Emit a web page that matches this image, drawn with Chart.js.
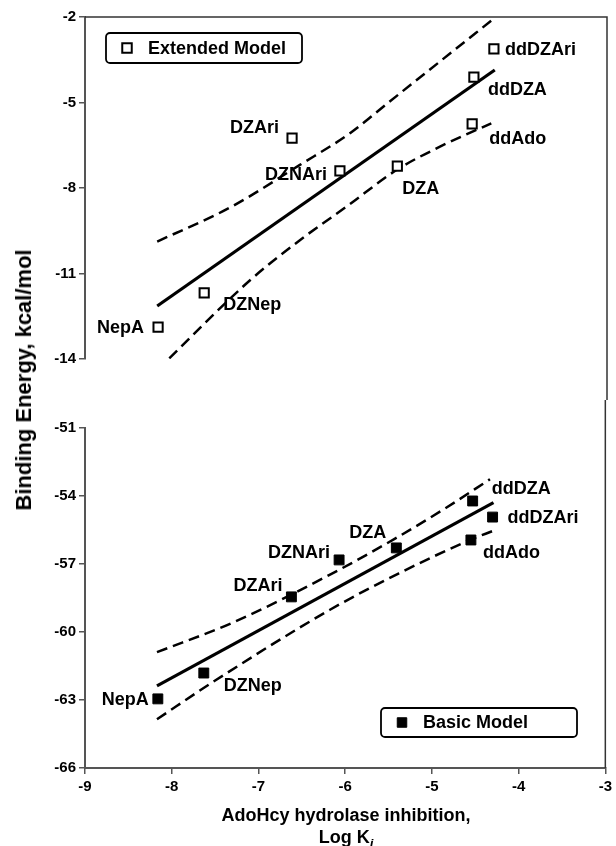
<!DOCTYPE html>
<html>
<head>
<meta charset="utf-8">
<script src="https://cdn.jsdelivr.net/npm/chart.js@4.4.1/dist/chart.umd.min.js"></script>
<style>
html,body{margin:0;padding:0;background:#fff;}
#wrap{position:relative;width:616px;height:846px;overflow:hidden;font-family:"Liberation Sans",Arial,Helvetica,sans-serif;color:#000;}
#topBox{position:absolute;left:0;top:0;width:616px;height:400px;}
#botBox{position:absolute;left:0;top:400px;width:616px;height:446px;}
#ytitle{position:absolute;left:24px;top:380px;transform:translate(-50%,-50%) rotate(-90deg);white-space:nowrap;font-weight:bold;font-size:22px;}
#xtitle{position:absolute;left:346px;top:804px;transform:translateX(-50%);text-align:center;font-weight:bold;font-size:18px;line-height:22px;white-space:nowrap;}
#xtitle sub{font-size:13px;line-height:0;}
</style>
</head>
<body>
<div id="wrap">
  <div id="topBox"><canvas id="topChart"></canvas></div>
  <div id="botBox"><canvas id="botChart"></canvas></div>
  <div id="ytitle">Binding Energy, kcal/mol</div>
  <div id="xtitle">AdoHcy hydrolase inhibition,<br>Log K<sub><i>i</i></sub></div>
</div>
<script>
// ---------------- data ----------------
const compounds = ['NepA', 'DZNep', 'DZAri', 'DZNAri', 'DZA', 'ddAdo', 'ddDZA', 'ddDZAri'];
const logKi = [-8.16, -7.63, -6.62, -6.07, -5.41, -4.55, -4.53, -4.30];

// Extended model (top panel)
const extendedEnergy = [-12.88, -11.68, -6.25, -7.40, -7.23, -5.75, -4.11, -3.12];
const extFitX = [-8.17, -4.29];
const extFitY = [-12.14, -3.86];
const extUpperX = [-8.17, -7.33, -6.53, -5.95, -5.52, -4.94, -4.31];
const extUpperY = [-9.88, -8.68, -7.19, -6.07, -5.02, -3.61, -2.08];
const extLowerX = [-8.17, -7.10, -6.53, -5.97, -5.42, -4.92, -4.33];
const extLowerY = [-14.39, -11.23, -9.83, -8.60, -7.37, -6.55, -5.73];

// Basic model (bottom panel)
const basicEnergy = [-62.95, -61.81, -58.45, -56.82, -56.29, -55.94, -54.22, -54.93];
const basFitX = [-8.17, -4.29];
const basFitY = [-62.38, -54.29];
const basUpperX = [-8.17, -7.30, -6.18, -5.42, -4.84, -4.33];
const basUpperY = [-60.89, -59.59, -57.48, -55.87, -54.53, -53.26];
const basLowerX = [-8.17, -7.49, -6.18, -5.38, -4.56, -4.29];
const basLowerY = [-63.85, -62.12, -59.03, -57.41, -55.94, -55.53];

const xTicks = [-9, -8, -7, -6, -5, -4, -3];
const topYTicks = [-14, -11, -8, -5, -2];
const botYTicks = [-66, -63, -60, -57, -54, -51];

const extLabel = 'Extended Model';
const basLabel = 'Basic Model';

// ---------------- styling / layout ----------------
const FONT = '"Liberation Sans", Arial, Helvetica, sans-serif';
Chart.defaults.font.family = FONT;
Chart.defaults.color = '#000';

// label offsets (pixels from the point): [dx, dy, align]
const topLabelPos = [[-14, 1, 'right'], [19, 12, 'left'], [-13, -10, 'right'], [-13, 4, 'right'],
                     [5, 23, 'left'], [17, 15, 'left'], [14, 13, 'left'], [11, 1, 'left']];
const botLabelPos = [[-9, 1, 'right'], [20, 13, 'left'], [-9, -11, 'right'], [-9, -7, 'right'],
                     [-10, -15, 'right'], [12, 13, 'left'], [19, -12, 'left'], [15, 1, 'left']];

const pts = (xs, ys) => xs.map((x, i) => ({x: x, y: ys[i]}));

function roundRect(ctx, x, y, w, h, r) {
  ctx.beginPath();
  ctx.moveTo(x + r, y);
  ctx.lineTo(x + w - r, y);
  ctx.arcTo(x + w, y, x + w, y + r, r);
  ctx.lineTo(x + w, y + h - r);
  ctx.arcTo(x + w, y + h, x + w - r, y + h, r);
  ctx.lineTo(x + r, y + h);
  ctx.arcTo(x, y + h, x, y + h - r, r);
  ctx.lineTo(x, y + r);
  ctx.arcTo(x, y, x + r, y, r);
  ctx.closePath();
}

const panelDecor = {
  id: 'panelDecor',
  afterDatasetsDraw(chart, args, opts) {
    const ctx = chart.ctx;
    const meta = chart.getDatasetMeta(0);
    const ds = chart.data.datasets[0];
    ctx.save();
    ctx.font = 'bold 18px ' + FONT;
    ctx.fillStyle = '#000';
    ctx.textBaseline = 'middle';
    meta.data.forEach((pt, i) => {
      const p = opts.labelPos[i];
      ctx.textAlign = p[2];
      ctx.fillText(opts.names[i], pt.x + p[0], pt.y + p[1]);
    });
    // legend box
    const ca = chart.chartArea;
    const b = opts.legendBox;
    const bx = ca.left + b.dx;
    const by = b.fromBottom ? ca.bottom - b.dy : ca.top + b.dy;
    ctx.lineWidth = 1.8;
    ctx.strokeStyle = '#000';
    roundRect(ctx, bx, by, b.w, b.h, 4);
    ctx.fillStyle = '#fff';
    ctx.fill();
    ctx.stroke();
    const cy = by + b.h / 2;
    const s = 9.5;
    ctx.beginPath();
    ctx.rect(bx + 21 - s / 2, cy - s / 2, s, s);
    ctx.fillStyle = ds.backgroundColor;
    ctx.fill();
    ctx.lineWidth = ds.borderWidth;
    ctx.strokeStyle = '#000';
    ctx.stroke();
    ctx.fillStyle = '#000';
    ctx.textAlign = 'left';
    ctx.fillText(ds.label, bx + 42, cy + 1);
    ctx.restore();
  },
  afterDraw(chart, args, opts) {
    const ctx = chart.ctx;
    const ca = chart.chartArea;
    ctx.save();
    ctx.strokeStyle = '#333';
    ctx.lineWidth = 1.5;
    ctx.beginPath();
    if (opts.frame === 'top') {
      ctx.moveTo(ca.left, ca.top);
      ctx.lineTo(ca.right, ca.top);
      ctx.lineTo(ca.right, chart.height);
    } else {
      ctx.moveTo(ca.right, 0);
      ctx.lineTo(ca.right, ca.bottom);
    }
    ctx.stroke();
    ctx.restore();
  }
};

function yScale(min, max, ticks) {
  return {
    type: 'linear', min: min, max: max,
    afterBuildTicks: (axis) => { axis.ticks = ticks.map(v => ({value: v})); },
    ticks: { font: {size: 15, weight: 'bold'}, color: '#000', padding: 3 },
    grid: { drawOnChartArea: false, drawTicks: true, tickLength: 6, color: '#555', lineWidth: 1.5 },
    border: { display: true, color: '#555', width: 2 },
    afterFit: (axis) => { axis.width = 85; }
  };
}

function makeDatasets(label, energy, fitX, fitY, upX, upY, loX, loY, filled) {
  const line = { showLine: true, pointRadius: 0, pointHoverRadius: 0, borderColor: '#000', fill: false };
  return [
    { label: label, data: pts(logKi, energy), showLine: false, pointStyle: 'rect',
      pointRadius: filled ? 7 : 6.5, backgroundColor: filled ? '#000' : '#fff',
      borderColor: '#000', borderWidth: filled ? 1 : 2 },
    Object.assign({ label: 'fit', data: pts(fitX, fitY), borderWidth: 3.2 }, line),
    Object.assign({ label: 'upper', data: pts(upX, upY), borderWidth: 2.5, borderDash: [11, 6],
      cubicInterpolationMode: 'monotone' }, line),
    Object.assign({ label: 'lower', data: pts(loX, loY), borderWidth: 2.5, borderDash: [11, 6],
      cubicInterpolationMode: 'monotone' }, line)
  ];
}

const common = {
  responsive: true, maintainAspectRatio: false, animation: false,
  plugins: { legend: { display: false }, tooltip: { enabled: false } },
  events: []
};

new Chart(document.getElementById('topChart'), {
  type: 'scatter',
  data: { datasets: makeDatasets(extLabel, extendedEnergy, extFitX, extFitY, extUpperX, extUpperY, extLowerX, extLowerY, false) },
  options: Object.assign({}, common, {
    layout: { padding: { top: 17, right: 9, bottom: 41, left: 0 } },
    scales: {
      x: { type: 'linear', min: -9, max: -3, display: false },
      y: yScale(-14, -2, topYTicks)
    },
    plugins: Object.assign({}, common.plugins, {
      panelDecor: { names: compounds, labelPos: topLabelPos, frame: 'top',
        legendBox: { dx: 21, dy: 16, w: 196, h: 30, fromBottom: false } }
    })
  }),
  plugins: [panelDecor]
});

new Chart(document.getElementById('botChart'), {
  type: 'scatter',
  data: { datasets: makeDatasets(basLabel, basicEnergy, basFitX, basFitY, basUpperX, basUpperY, basLowerX, basLowerY, true) },
  options: Object.assign({}, common, {
    layout: { padding: { top: 28, right: 9, bottom: 0, left: 0 } },
    scales: {
      x: {
        type: 'linear', min: -9, max: -3,
        afterBuildTicks: (axis) => { axis.ticks = xTicks.map(v => ({value: v})); },
        ticks: { font: {size: 15, weight: 'bold'}, color: '#000', padding: 4, maxRotation: 0 },
        grid: { drawOnChartArea: false, drawTicks: true, tickLength: 6, color: '#555', lineWidth: 1.5 },
        border: { display: true, color: '#555', width: 2 },
        afterFit: (axis) => { axis.height = 78; }
      },
      y: yScale(-66, -51, botYTicks)
    },
    plugins: Object.assign({}, common.plugins, {
      panelDecor: { names: compounds, labelPos: botLabelPos, frame: 'bottom',
        legendBox: { dx: 296, dy: 60, w: 196, h: 29, fromBottom: true } }
    })
  }),
  plugins: [panelDecor]
});
</script>
</body>
</html>
